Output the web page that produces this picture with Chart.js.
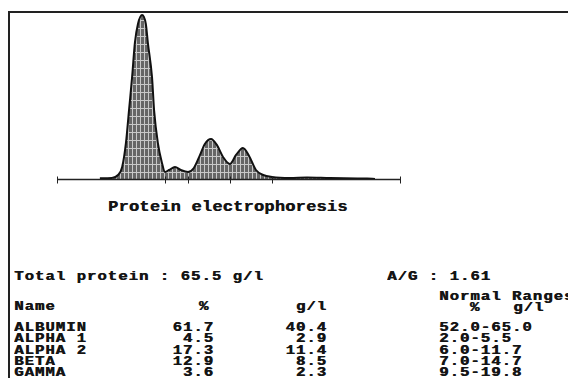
<!DOCTYPE html>
<html>
<head>
<meta charset="utf-8">
<script src="https://cdn.jsdelivr.net/npm/chart.js@4.4.1/dist/chart.umd.min.js"></script>
<style>
  html, body { margin: 0; padding: 0; background: #fff; }
  body { width: 568px; height: 378px; position: relative; overflow: hidden; }
  #frameTop { position: absolute; left: 8px; top: 11px; width: 560px; height: 0; border-top: 2px solid #222; }
  #frameLeft { position: absolute; left: 8px; top: 11px; width: 0; height: 367px; border-left: 2px solid #222; }
  #wrap { position: absolute; left: 50px; top: 8px; width: 360px; height: 180px; }
  .t { position: absolute; white-space: pre; font-family: "Liberation Mono", "DejaVu Sans Mono", monospace;
       font-weight: bold; color: #151515; font-size: 12px; line-height: 12px; letter-spacing: 0.8px;
       transform: scaleX(1.3); transform-origin: left center; text-shadow: 0.5px 0 0 #151515; }
  .t.r { transform-origin: right center; }
  .t.c { transform-origin: center center; }
  .title { font-size: 15px; line-height: 16px; letter-spacing: 0.3px; transform: scaleX(1.12); }
</style>
</head>
<body>
<div id="frameTop"></div>
<div id="frameLeft"></div>
<div id="wrap"><canvas id="chart-1" width="360" height="180"></canvas></div>
<div id="texts"></div>
<script>
// densitometry trace (relative mobility 0-100, relative absorbance 0-100)
const mobility = [12.5, 16.0, 17.8, 19.0, 20.1, 21.0, 21.9, 22.7, 23.6, 24.8, 25.9, 26.5, 27.7, 28.3, 29.4, 30.6,
                  31.5, 32.7, 34.4, 36.1, 38.2, 39.9, 41.7, 43.1, 44.9, 46.6, 48.4, 50.4, 52.2, 54.2, 56.0, 58.0,
                  60.1, 62.7, 67.9, 72.9, 79.6, 90.4, 92.7];
const density  = [0.4, 0.6, 2.4, 7.2, 21.6, 41.3, 61.1, 81.4, 92.8, 98.2, 92.8, 81.4, 61.1, 41.3, 21.6, 9.6,
                  4.2, 5.4, 7.2, 5.4, 4.2, 6.6, 14.4, 21.0, 24.0, 20.4, 13.2, 9.0, 14.4, 18.6, 13.8, 5.4,
                  2.4, 1.2, 0.6, 0.9, 0.6, 0.3, 0.0];
// fraction cut points on the baseline
const boundaries = [0, 31.5, 38.2, 50.4, 62.7, 100];

const fractions = ["ALBUMIN", "ALPHA 1", "ALPHA 2", "BETA", "GAMMA"];
const percents  = ["61.7", "4.5", "17.3", "12.9", "3.6"];
const grams     = ["40.4", "2.9", "11.4", "8.5", "2.3"];
const ranges    = ["52.0-65.0", "2.0-5.5", "6.0-11.7", "7.0-14.7", "9.5-19.8"];
const totalProtein = "65.5 g/l";
const agRatio = "1.61";

function hatch() {
  const c = document.createElement('canvas');
  c.width = 4; c.height = 8;
  const g = c.getContext('2d');
  g.fillStyle = '#666';
  g.fillRect(0, 0, 4, 8);
  g.fillStyle = '#c8c8c8';
  g.fillRect(2, 0, 1, 8);
  g.fillRect(0, 4, 4, 1);
  return g.createPattern(c, 'repeat');
}

const baseline = {
  id: 'baseline',
  afterDatasetsDraw(chart) {
    const x = chart.scales.x, y = chart.scales.y, ctx = chart.ctx;
    const y0 = Math.round(y.getPixelForValue(0)) + 0.5;
    ctx.save();
    ctx.strokeStyle = '#222';
    ctx.lineWidth = 1.4;
    ctx.beginPath();
    ctx.moveTo(x.getPixelForValue(boundaries[0]), y0);
    ctx.lineTo(x.getPixelForValue(boundaries[boundaries.length - 1]), y0);
    ctx.stroke();
    ctx.lineWidth = 1;
    boundaries.forEach(b => {
      const px = Math.round(x.getPixelForValue(b)) + 0.5;
      ctx.beginPath();
      ctx.moveTo(px, y0 - 3);
      ctx.lineTo(px, y0 + 4);
      ctx.stroke();
    });
    ctx.restore();
  }
};

new Chart(document.getElementById('chart-1'), {
  type: 'line',
  data: {
    datasets: [{
      data: mobility.map((m, i) => ({ x: m, y: density[i] })),
      borderColor: '#111',
      borderWidth: 2,
      backgroundColor: hatch(),
      fill: 'origin',
      pointRadius: 0,
      cubicInterpolationMode: 'monotone',
      clip: false
    }]
  },
  options: {
    responsive: false,
    animation: false,
    layout: { padding: { left: 7, right: 10, top: 4, bottom: 9 } },
    scales: {
      x: { type: 'linear', min: 0, max: 100, display: false },
      y: { min: 0, max: 100, display: false }
    },
    plugins: { legend: { display: false }, tooltip: { enabled: false } }
  },
  plugins: [baseline]
});

// report text
const box = document.getElementById('texts');
function put(text, x, y, align, cls) {
  const d = document.createElement('div');
  d.className = 't' + (cls ? ' ' + cls : '') + (align === 'right' ? ' r' : align === 'center' ? ' c' : '');
  d.textContent = text;
  const h = cls === 'title' ? 16 : 12;
  d.style.top = (y - h / 2) + 'px';
  if (align === 'right') d.style.right = (568 - x - 0.8) + 'px';
  else if (align === 'center') { d.style.left = (x - 40) + 'px'; d.style.width = '80px'; d.style.textAlign = 'center'; }
  else d.style.left = x + 'px';
  box.appendChild(d);
}

put("Protein electrophoresis", 108, 208, 'left', 'title');
put("Total protein : " + totalProtein, 14, 277, 'left');
put("A/G : " + agRatio, 387, 277, 'left');
put("Normal Ranges", 439, 297, 'left');
put("Name", 14, 307, 'left');
put("%", 204, 307, 'center');
put("g/l", 326, 307, 'right');
put("%", 475, 308, 'center');
put("g/l", 513, 308, 'left');
fractions.forEach((f, i) => {
  const y = 328 + i * 11.3;
  put(f, 14, y, 'left');
  put(percents[i], 213, y, 'right');
  put(grams[i], 326, y, 'right');
  put(ranges[i], 439, y, 'left');
});
</script>
</body>
</html>
